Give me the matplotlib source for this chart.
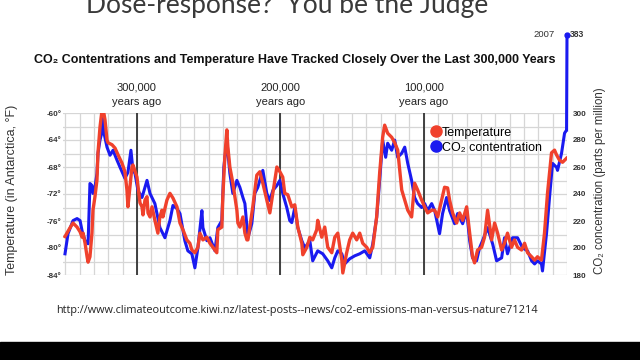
import numpy as np
import matplotlib.pyplot as plt
from matplotlib.lines import Line2D
from matplotlib.transforms import blended_transform_factory

# Antarctic temperature (deg F) vs thousands of years before present
temp_kyr = [350.2, 346.7, 344.6, 341.8, 339.7, 338.3, 337.6, 336.2, 334.8, 334.1,
            332.8, 331.4, 330.7, 329.3, 327.9, 327.2, 325.8, 324.4, 323.7, 322.3,
            320.9, 320.2, 317.4, 315.3, 313.2, 310.5, 308.4, 307.0, 306.3, 304.9,
            303.5, 302.8, 300.0, 297.9, 296.5, 295.8, 294.4, 293.0, 292.3, 290.9,
            289.5, 287.5, 285.4, 284.0, 282.6, 281.9, 279.1, 277.0, 274.9, 272.1,
            270.0, 267.9, 265.2, 263.1, 261.7, 259.6, 257.5, 256.1, 254.0, 251.2,
            249.1, 247.0, 244.3, 243.6, 240.8, 240.1, 238.7, 237.3, 236.6, 235.2,
            233.1, 230.3, 229.6, 228.2, 226.8, 226.1, 224.7, 223.3, 222.6, 221.3,
            219.2, 216.4, 214.3, 212.2, 209.4, 207.3, 205.2, 202.4, 200.3, 198.3,
            196.9, 194.8, 192.0, 189.9, 187.8, 185.0, 184.3, 181.5, 179.4, 177.4,
            174.6, 173.9, 171.1, 169.0, 166.9, 164.1, 162.0, 159.9, 157.1, 156.4,
            153.7, 151.6, 149.5, 146.7, 144.6, 142.5, 139.7, 137.6, 135.5, 132.8,
            130.7, 128.6, 127.2, 125.1, 122.3, 120.2, 118.1, 116.7, 115.3, 113.2,
            111.1, 108.4, 106.3, 104.2, 101.4, 99.3, 97.2, 94.4, 92.3, 90.2,
            87.5, 85.4, 83.3, 81.9, 79.8, 77.0, 74.9, 72.8, 70.0, 67.9,
            65.9, 64.5, 62.4, 59.6, 57.5, 55.4, 52.6, 50.5, 48.4, 45.6,
            43.6, 41.5, 38.7, 36.6, 34.5, 31.7, 29.6, 27.5, 24.7, 22.6,
            20.6, 17.8, 15.7, 13.6, 10.8, 8.7, 7.3, 5.2, 3.1, 0.3]
temp_f = [-78.3, -77.0, -76.3, -76.9, -77.6, -78.4, -77.8, -79.3, -81.3, -82.1,
          -81.3, -77.8, -74.4, -72.4, -69.9, -65.9, -62.1, -59.6, -59.3, -61.0,
          -64.0, -64.4, -64.7, -65.2, -66.2, -67.4, -68.7, -71.4, -73.9, -71.0,
          -68.0, -67.7, -69.5, -73.3, -73.9, -75.1, -72.9, -72.4, -74.8, -75.4,
          -73.9, -75.9, -77.8, -75.4, -74.4, -75.4, -72.9, -71.9, -72.6, -73.9,
          -76.3, -77.3, -78.8, -79.3, -80.3, -80.7, -79.9, -77.8, -78.8, -78.4,
          -79.3, -79.9, -80.7, -77.3, -76.9, -72.4, -66.5, -62.5, -65.0, -68.0,
          -70.4, -74.4, -76.3, -76.9, -75.9, -75.4, -77.8, -78.8, -78.8, -76.9,
          -73.9, -69.2, -68.7, -70.4, -72.9, -74.8, -71.9, -68.0, -68.7, -69.5,
          -71.9, -72.1, -73.9, -73.6, -76.9, -79.3, -81.0, -79.9, -78.4, -78.8,
          -77.3, -75.9, -78.4, -76.9, -79.9, -80.7, -78.4, -77.8, -81.8, -83.7,
          -80.7, -78.8, -77.8, -78.8, -77.8, -79.3, -79.9, -80.7, -79.9, -75.4,
          -68.9, -63.6, -61.8, -63.0, -63.6, -64.4, -65.5, -68.4, -71.4, -72.9,
          -74.4, -75.4, -70.4, -71.4, -72.9, -73.9, -74.8, -74.4, -74.4, -75.4,
          -72.9, -71.0, -71.1, -72.9, -74.8, -76.3, -74.8, -75.9, -73.9, -77.8,
          -81.3, -82.2, -80.3, -79.9, -78.4, -74.4, -78.8, -76.3, -77.8, -80.3,
          -79.3, -77.8, -79.9, -78.8, -79.9, -80.3, -79.3, -80.7, -81.3, -81.8,
          -81.3, -81.8, -77.8, -71.9, -65.9, -65.5, -66.2, -67.0, -67.3, -66.7]

# CO2 (ppm) vs thousands of years before present
co2_kyr = [350.2, 348.1, 344.6, 341.8, 339.7, 338.3, 336.2, 334.1, 332.8, 331.4,
           330.7, 329.3, 327.9, 327.2, 325.8, 324.4, 323.7, 323.0, 320.9, 318.8,
           316.7, 313.9, 311.8, 308.4, 306.3, 304.2, 302.8, 301.4, 299.3, 296.5,
           293.0, 290.9, 287.5, 284.0, 280.5, 277.0, 274.9, 272.1, 270.0, 266.6,
           264.5, 261.7, 259.6, 257.5, 254.7, 254.0, 251.2, 249.1, 245.6, 243.6,
           240.8, 239.4, 237.3, 235.2, 233.1, 230.3, 228.2, 226.1, 224.7, 222.6,
           219.9, 217.8, 215.7, 214.3, 212.2, 209.4, 207.3, 205.2, 202.4, 200.3,
           198.3, 195.5, 193.4, 192.0, 189.9, 187.8, 185.0, 182.9, 179.4, 177.4,
           173.9, 170.4, 166.9, 164.1, 162.0, 159.9, 157.1, 155.1, 151.6, 148.1,
           144.6, 141.1, 137.6, 135.5, 132.8, 130.7, 128.6, 126.5, 125.1, 122.3,
           120.2, 118.1, 115.3, 113.2, 111.1, 108.4, 106.3, 104.2, 101.4, 99.3,
           97.2, 94.4, 92.3, 88.9, 86.8, 84.0, 81.9, 78.4, 76.3, 72.8,
           70.0, 67.9, 65.9, 63.1, 61.0, 58.9, 55.4, 51.9, 49.1, 45.6,
           43.6, 41.5, 38.0, 34.5, 31.0, 27.5, 24.7, 22.6, 20.6, 17.8,
           17.1, 14.3, 12.2, 10.1, 7.3, 6.6, 3.8, 1.7, 0.3]
co2_ppm = [195.7, 210.6, 220.3, 221.8, 220.3, 212.8, 205.4, 203.1, 247.8, 246.3,
           240.4, 244.9, 255.3, 270.2, 279.9, 285.8, 296.3, 285.1, 274.7, 268.7,
           272.4, 265.0, 259.8, 251.6, 256.0, 272.4, 257.5, 255.3, 242.6, 237.4,
           250.1, 240.4, 232.9, 215.1, 207.6, 220.3, 231.5, 229.2, 225.5, 205.4,
           197.9, 195.7, 185.3, 200.1, 227.7, 215.1, 205.4, 207.6, 197.9, 215.1,
           220.3, 259.8, 279.9, 255.3, 240.4, 250.1, 244.9, 237.4, 232.9, 207.6,
           218.0, 240.4, 244.9, 250.1, 257.5, 240.4, 235.2, 242.6, 246.3, 250.1,
           240.4, 230.0, 220.3, 218.8, 230.0, 215.1, 205.4, 200.1, 205.4, 190.5,
           197.9, 195.7, 190.5, 185.3, 192.7, 197.9, 195.7, 188.2, 192.0, 194.2,
           195.7, 197.9, 192.7, 203.1, 222.5, 250.1, 279.9, 267.2, 277.6, 272.4,
           279.9, 267.2, 270.2, 274.7, 262.7, 250.1, 237.4, 232.9, 230.0, 232.9,
           227.7, 232.9, 227.7, 210.6, 225.5, 237.4, 227.7, 218.0, 225.5, 218.0,
           227.7, 205.4, 192.7, 190.5, 200.1, 205.4, 215.1, 203.1, 190.5, 192.7,
           207.6, 195.7, 207.6, 207.6, 200.1, 197.9, 190.5, 188.2, 190.5, 188.2,
           183.0, 210.6, 237.4, 262.7, 259.8, 257.5, 270.2, 285.1, 287.3]
co2_2007 = 383

RED = '#f0412c'
BLUE = '#1a1af0'
SANS = ['Liberation Sans', 'DejaVu Sans']

fig = plt.figure(figsize=(6.4, 3.6), dpi=100)
fig.patch.set_facecolor('white')

ax = fig.add_axes([63 / 640, 1 - 275 / 360, 504 / 640, 162 / 360])
ax.set_xlim(351.6, 0)
ax.set_ylim(-84, -60)
ax.set_xticks([])
ax.set_xticks(np.arange(0, 351, 10), minor=True)
ax.set_yticks(np.arange(-84, -59, 4))
ax.set_yticklabels([f'{v}°' for v in range(-84, -59, 4)])
ax.set_yticks(np.arange(-84, -59, 2), minor=True)
ax.grid(True, which='minor', color='#d6d6d6', lw=0.9)
ax.grid(True, which='major', axis='y', color='#d6d6d6', lw=0.9)
ax.tick_params(which='both', length=0)
ax.tick_params(axis='y', pad=1, labelsize=5.8, labelcolor='#333333')
for lab in ax.get_yticklabels():
    lab.set_fontweight('bold')
    lab.set_family(SANS)
for s in ax.spines.values():
    s.set_visible(False)

for k in (300, 200, 100):
    ax.axvline(k, color='#333333', lw=1.3, zorder=2)

# right axis, stretched above 300 ppm like the original (not to scale)
def fwd(y):
    y = np.asarray(y, dtype=float)
    return np.where(y <= 300, y, 300 + (y - 300) * 0.7)

def inv(y):
    y = np.asarray(y, dtype=float)
    return np.where(y <= 300, y, 300 + (y - 300) / 0.7)

ax2 = ax.twinx()
ax2.set_yscale('function', functions=(fwd, inv))
ax2.set_ylim(180, 300)
ax2.set_yticks(np.arange(180, 301, 20))
ax2.set_yticks([], minor=True)
ax2.tick_params(length=0, pad=4, labelsize=5.8, labelcolor='#333333')
for lab in ax2.get_yticklabels():
    lab.set_fontweight('bold')
    lab.set_family(SANS)
for s in ax2.spines.values():
    s.set_visible(False)

ax2.plot(co2_kyr, co2_ppm, color=BLUE, lw=2.2, zorder=3, solid_joinstyle='round')
ax2.plot([co2_kyr[-1], 0], [co2_ppm[-1], co2_2007], color=BLUE, lw=2.2, clip_on=False)
ax2.plot([0], [co2_2007], 'o', color=BLUE, ms=3.5, clip_on=False)
ax2.annotate('2007', (0, co2_2007), xytext=(-9, 0), textcoords='offset points',
             ha='right', va='center', fontsize=6.8, color='#333333', family=SANS,
             annotation_clip=False)
ax2.annotate(str(co2_2007), (0, co2_2007), xytext=(2, 0), textcoords='offset points',
             ha='left', va='center', fontsize=6.2, color='#333333', fontweight='bold',
             family=SANS, annotation_clip=False)

ax3 = ax.twinx()
ax3.set_ylim(-84, -60)
ax3.axis('off')
ax3.plot(temp_kyr, temp_f, color=RED, lw=2.4, zorder=4, solid_joinstyle='round')

handles = [Line2D([], [], ls='', marker='o', ms=8, color=RED),
           Line2D([], [], ls='', marker='o', ms=8, color=BLUE)]
ax3.legend(handles, ['Temperature', 'CO₂ contentration'], loc='upper left',
           bbox_to_anchor=(0.72, 0.955), frameon=False, handlelength=0.6,
           handletextpad=0.2, borderpad=0, labelspacing=0.25,
           prop={'family': SANS, 'size': 9})

tr = blended_transform_factory(ax.transData, fig.transFigure)
for k, lab in ((300, '300,000'), (200, '200,000'), (100, '100,000')):
    fig.text(k, 1 - 88 / 360, lab, transform=tr, ha='center', va='center',
             fontsize=8, family=SANS, color='#222222')
    fig.text(k, 1 - 102 / 360, 'years ago', transform=tr, ha='center', va='center',
             fontsize=8, family=SANS, color='#222222')

fig.text(295 / 640, 1 - 60 / 360,
         'CO₂ Contentrations and Temperature Have Tracked Closely Over the Last 300,000 Years',
         ha='center', va='center', fontsize=9, fontweight='bold', family=SANS,
         color='#111111')
fig.text(12 / 640, 1 - 190 / 360, 'Temperature (in Antarctica, °F)', rotation=90,
         ha='center', va='center', fontsize=9, family=SANS, color='#333333')
fig.text(600 / 640, 1 - 181 / 360, 'CO₂ concentration (parts per million)', rotation=90,
         ha='center', va='center', fontsize=8.3, family=SANS, color='#333333')

fig.text(287 / 640, 1 - 13 / 360, 'Dose-response?  You be the Judge', ha='center',
         va='baseline', fontsize=19, family=['Lato', 'DejaVu Sans'],
         color='#3a3a3a')
fig.text(297 / 640, 1 - 310 / 360,
         'http://www.climateoutcome.kiwi.nz/latest-posts--news/co2-emissions-man-versus-nature71214',
         ha='center', va='center', fontsize=7.8, family=['Open Sans', 'DejaVu Sans'],
         color='#222222')

# black strip at the bottom of the screen capture
fig.patches.append(plt.Rectangle((0, 0), 1, 18 / 360, transform=fig.transFigure,
                                 color='black', zorder=10))

fig.savefig('out.png', dpi=100)
